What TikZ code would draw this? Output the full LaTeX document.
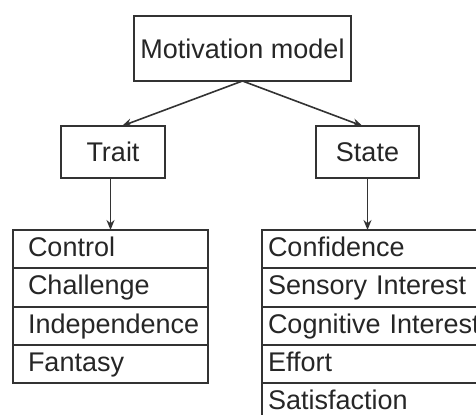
\documentclass[tikz,border=0pt]{standalone}
\usepackage{fontspec}
\setmainfont{Liberation Sans}
\usetikzlibrary{positioning,arrows.meta}
\definecolor{inkgray}{gray}{0.2}
\tikzset{
  box/.style={draw=inkgray, line width=1pt, outer sep=0pt, text=black!85},
  leftrow/.style={box, anchor=north west, minimum height=19.15pt, text width=82.5pt,
    inner xsep=7.5pt, inner ysep=0pt, align=left, text height=10pt, text depth=2.5pt},
  rightrow/.style={leftrow, text width=109pt, inner xsep=3pt},
  link/.style={draw=inkgray, line width=0.8pt, -{Stealth[length=5pt, width=4pt]}}
}
\begin{document}
\begin{tikzpicture}[x=0.5pt, y=-0.5pt, every node/.style={font=\fontsize{13.5}{15}\selectfont}]
  \useasboundingbox (0,0) rectangle (476,415);
  \clip (0,0) rectangle (476,415);
  % top level
  \node[box, minimum width=106.5pt, minimum height=32.5pt] (model) at (242.5,48.5) {Motivation model};
  \node[box, minimum width=52pt, minimum height=26pt, text height=10pt] (trait) at (113,152) {Trait};
  \node[box, minimum width=51.5pt, minimum height=26pt, text height=10pt] (state) at (367.5,152) {State};
  \draw[link] (model.south) -- ([xshift=4.5pt]trait.north);
  \draw[link] (model.south) -- ([xshift=-2.5pt]state.north);

  % trait list
  \foreach \lab [count=\i] in {Control,Challenge,Independence,Fantasy} {
    \node[leftrow] (t\i) at (13,{230+38.3*(\i-1)}) {\lab};
  }
  \draw[link] (trait.south -| t1.north) -- (t1.north);

  % state list
  \foreach \lab [count=\i] in {Confidence,Sensory Interest,Cognitive Interest,Effort,Satisfaction} {
    \node[rightrow] (s\i) at (262,{230+38.3*(\i-1)}) {\lab};
  }
  \draw[link] (state.south) -- (state.south |- s1.north);
\end{tikzpicture}
\end{document}
